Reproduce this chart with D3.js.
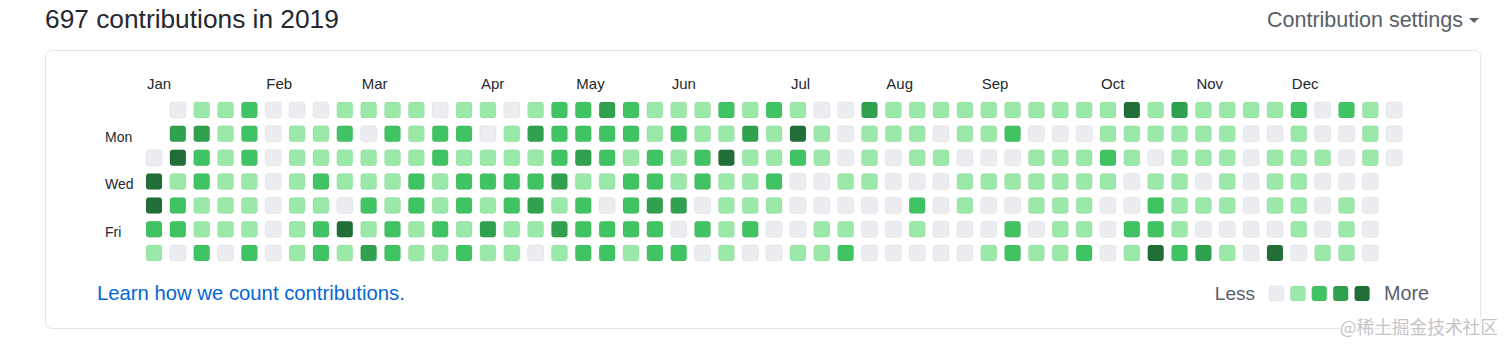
<!DOCTYPE html>
<html>
<head>
<meta charset="utf-8">
<script src="https://cdn.jsdelivr.net/npm/d3@7"></script>
<style>
  body { margin: 0; background: #fff; }
  svg { display: block; font-family: "Liberation Sans", Arial, sans-serif; }
</style>
</head>
<body>
<div id="chart"></div>
<script>
// Contribution levels, one string per weekday row, one char per week.
// '-' = day outside 2019. 0..4 = intensity level.
const rowsRaw = [
  "-01120001" + "1110110122" + "3211121210" + "03111111111" + "1413111120210",
  "-33120112" + "0212201322" + "2212113141" + "01110112000" + "1111110010010",
  "042120111" + "1112111123" + "2121241121" + "01011000111" + "2101110111010",
  "412110121" + "1121222231" + "1221211200" + "11000111111" + "101101011000-",
  "421110110" + "2121212312" + "0233011100" + "00020100111" + "002111011010-",
  "221110124" + "1212131132" + "2220212001" + "10010002011" + "022100001010-",
  "102020121" + "3211211012" + "2122010011" + "20000012112" + "014231040110-"
];
const dayLabels = ["", "Mon", "", "Wed", "", "Fri", ""];
const monthNames = ["Jan", "Feb", "Mar", "Apr", "May", "Jun", "Jul", "Aug", "Sep", "Oct", "Nov", "Dec"];
const levelColors = ["#ebedf0", "#9be9a8", "#40c463", "#30a14e", "#216e39"];
const totalText = "697 contributions in 2019";

const W = 1512, H = 351;
const svg = d3.select('#chart').append('svg')
    .attr('width', W)
    .attr('height', H);

svg.append('rect').attr('width', W).attr('height', H).attr('fill', '#fff');

// Header
svg.append('text')
    .attr('x', 45)
    .attr('y', 28)
    .style('font-size', '26.3px')
    .style('fill', '#24292e')
    .text(totalText);

svg.append('text')
    .attr('x', 1463)
    .attr('y', 27)
    .attr('text-anchor', 'end')
    .style('font-size', '21.5px')
    .style('fill', '#586069')
    .text('Contribution settings');

svg.append('path')
    .attr('d', 'M1469,18 L1479,18 L1474,23 Z')
    .attr('fill', '#586069');

// Box
svg.append('rect')
    .attr('x', 45.5)
    .attr('y', 50.5)
    .attr('width', 1435)
    .attr('height', 278)
    .attr('rx', 6)
    .attr('fill', 'none')
    .attr('stroke', '#e1e4e8');

// Build cells
const start = new Date(2019, 0, 1);
const firstSunday = d3.timeSunday.floor(start);
const cells = [];
rowsRaw.forEach((row, d) => {
    row.split('').forEach((ch, w) => {
        if (ch === '-') return;
        const date = d3.timeDay.offset(firstSunday, w * 7 + d);
        if (date.getFullYear() !== 2019) return;
        cells.push({ week: w, day: d, level: +ch, date: date });
    });
});

// Scales
const nWeeks = 53;
const cellSize = 16;
const x = d3.scaleLinear().domain([0, nWeeks - 1]).range([146, 146 + 23.85 * (nWeeks - 1)]);
const y = d3.scaleLinear().domain([0, 6]).range([102, 102 + 23.85 * 6]);
const color = d3.scaleOrdinal().domain([0, 1, 2, 3, 4]).range(levelColors);

svg.append('g')
    .selectAll('rect')
    .data(cells)
    .enter()
    .append('rect')
    .attr('x', d => x(d.week))
    .attr('y', d => y(d.day))
    .attr('width', cellSize)
    .attr('height', cellSize)
    .attr('rx', 3)
    .attr('fill', d => color(d.level))
    .attr('stroke', 'rgba(27,31,35,0.06)')
    .attr('stroke-width', 1);

// Month labels
const months = monthNames.map((name, m) => {
    const first = new Date(2019, m, 1);
    const sunday = m === 0 ? firstSunday : d3.timeSunday.ceil(first);
    return { name, week: d3.timeSunday.count(firstSunday, sunday) };
});

svg.append('g')
    .selectAll('text')
    .data(months)
    .enter()
    .append('text')
    .attr('x', d => x(d.week) + 1)
    .attr('y', 89)
    .style('font-size', '15px')
    .style('fill', '#24292e')
    .text(d => d.name);

// Day labels
svg.append('g')
    .selectAll('text')
    .data(dayLabels)
    .enter()
    .append('text')
    .attr('x', 105)
    .attr('y', (d, i) => y(i) + cellSize / 2 + 3)
    .attr('dy', '0.35em')
    .style('font-size', '14px')
    .style('fill', '#24292e')
    .text(d => d);

// Footer link
svg.append('text')
    .attr('x', 97)
    .attr('y', 300)
    .style('font-size', '20.3px')
    .style('fill', '#0366d6')
    .text('Learn how we count contributions.');

// Legend
const legend = svg.append('g');
legend.append('text')
    .attr('x', 1255)
    .attr('y', 300)
    .attr('text-anchor', 'end')
    .style('font-size', '19px')
    .style('fill', '#586069')
    .text('Less');

legend.selectAll('rect')
    .data(levelColors)
    .enter()
    .append('rect')
    .attr('x', (d, i) => 1269 + i * 21.4)
    .attr('y', 286)
    .attr('width', 15)
    .attr('height', 15)
    .attr('rx', 3)
    .attr('fill', d => d)
    .attr('stroke', 'rgba(27,31,35,0.06)');

legend.append('text')
    .attr('x', 1384)
    .attr('y', 300)
    .style('font-size', '19.8px')
    .style('fill', '#586069')
    .text('More');

// Watermark
svg.append('text')
    .attr('x', 1498)
    .attr('y', 334)
    .attr('text-anchor', 'end')
    .style('font-family', '"Noto Sans CJK SC", sans-serif')
    .style('font-size', '17.7px')
    .style('fill', '#c4c4c4')
    .style('stroke', '#fff')
    .style('stroke-width', 3)
    .style('paint-order', 'stroke')
    .text('@稀土掘金技术社区');
</script>
</body>
</html>
